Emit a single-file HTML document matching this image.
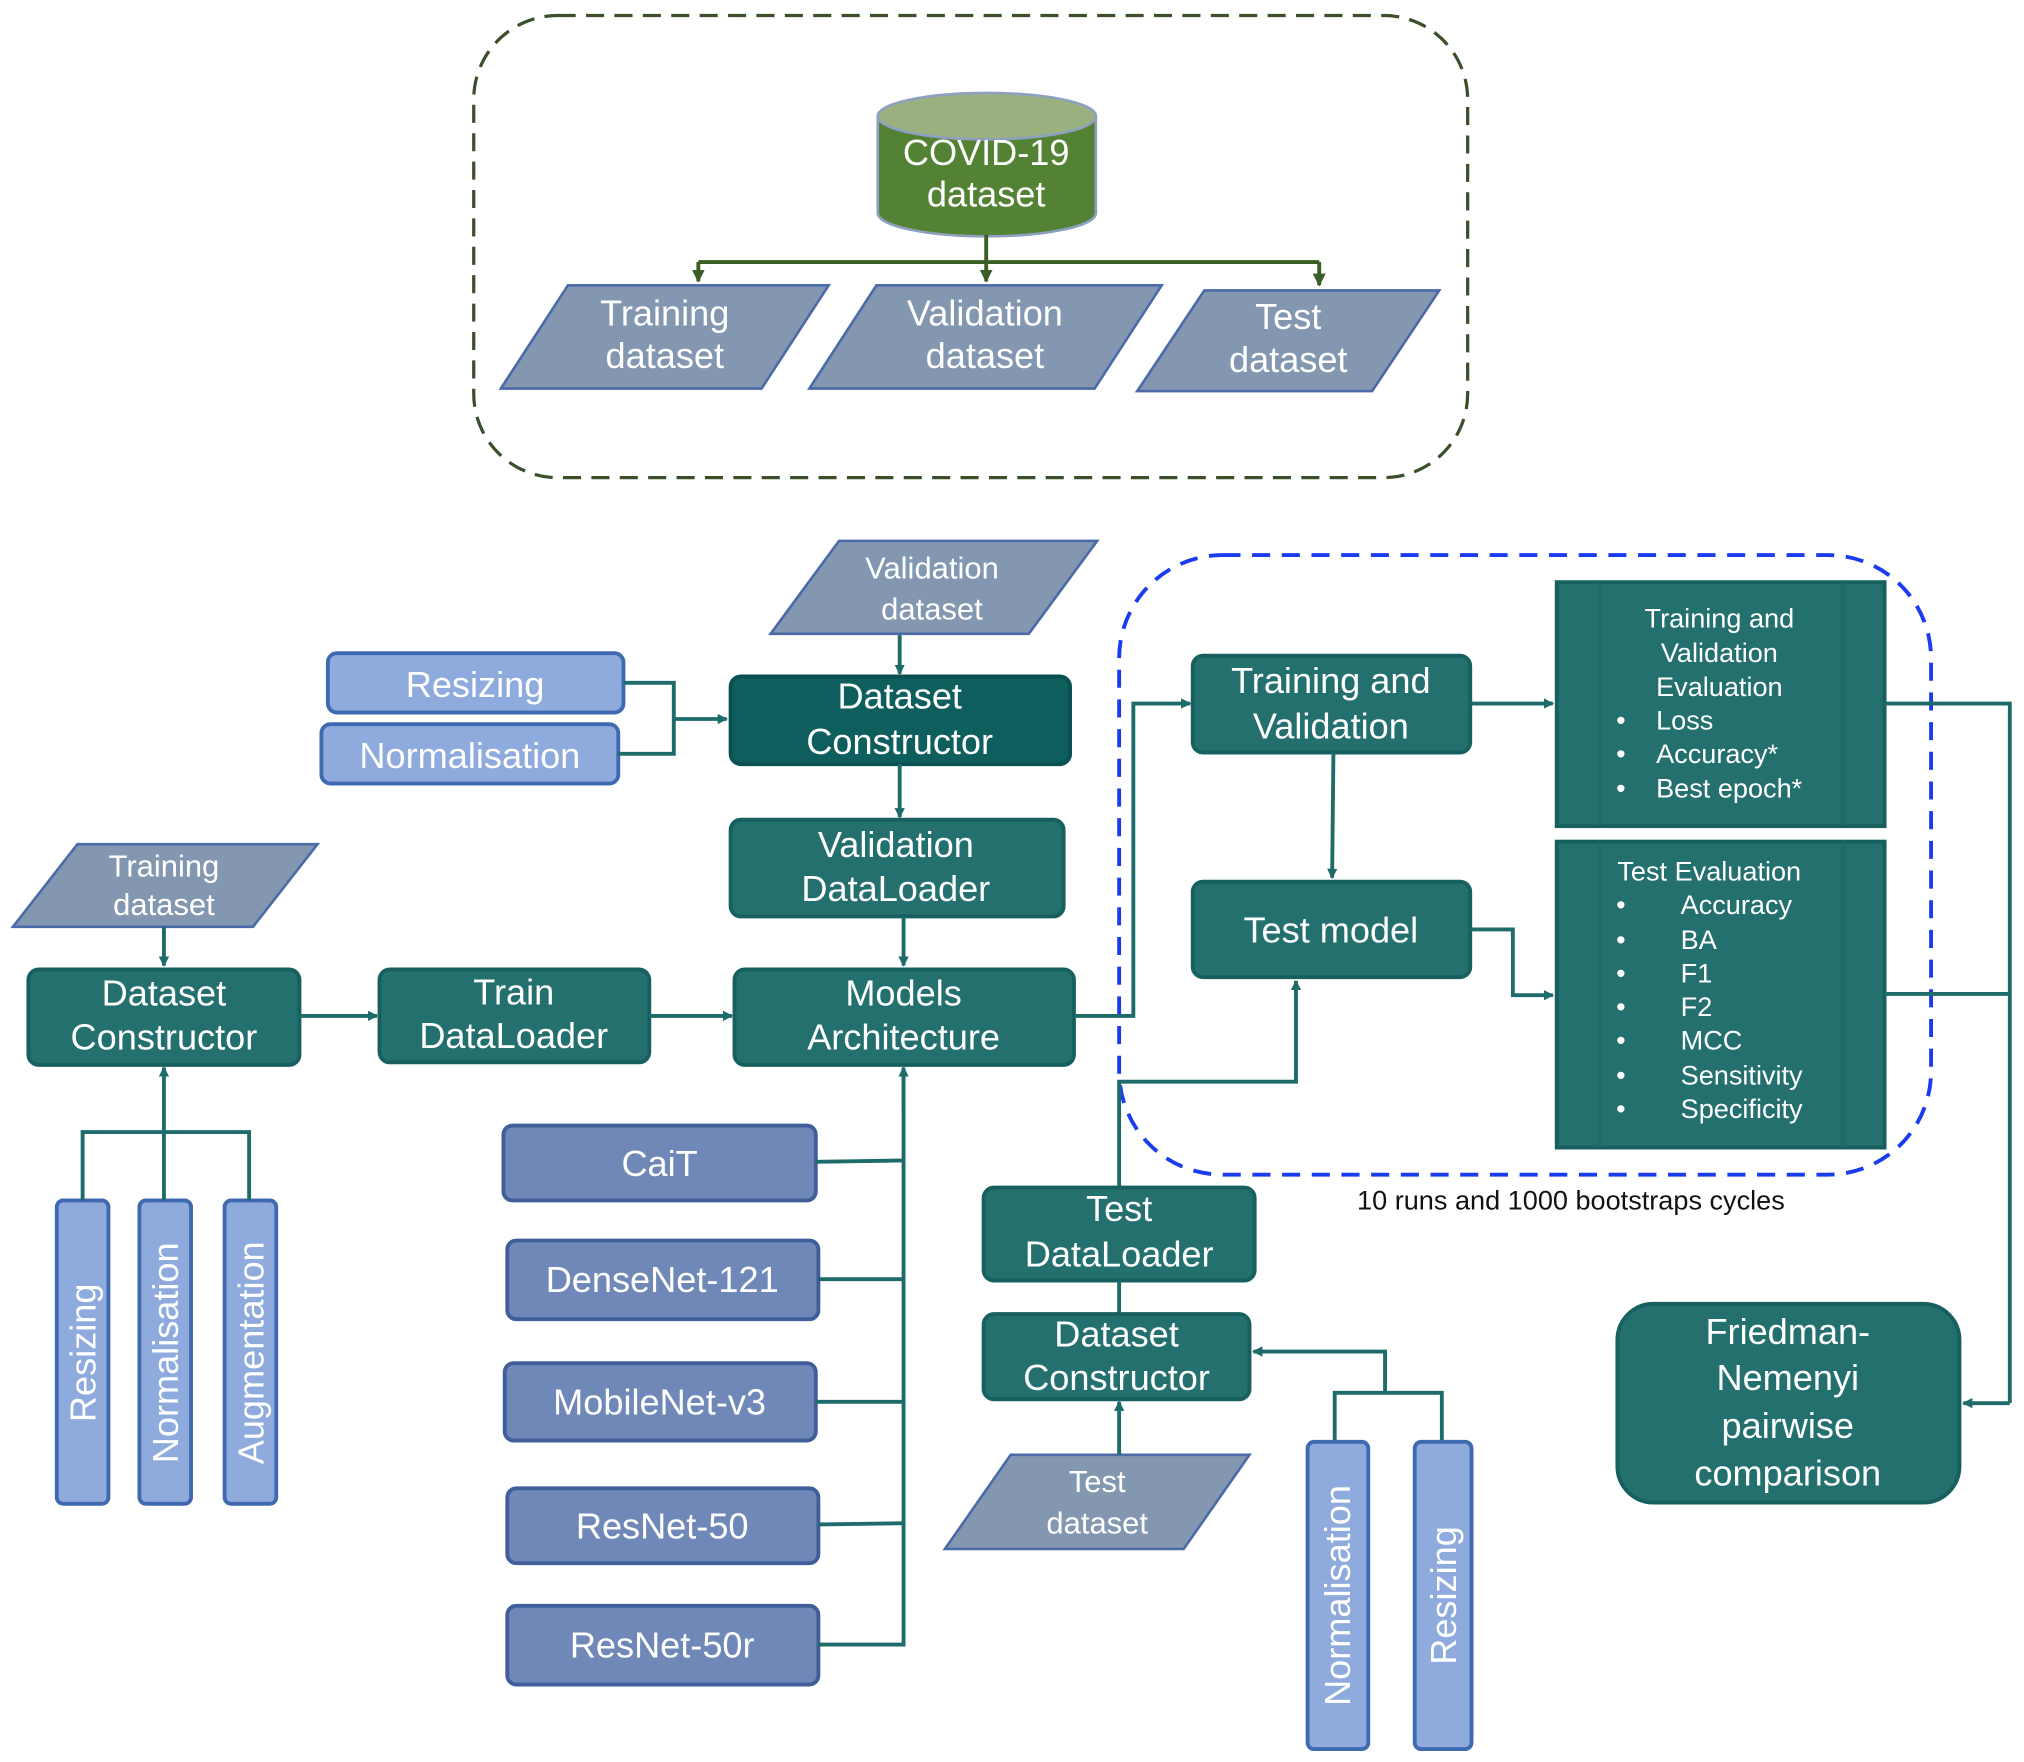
<!DOCTYPE html>
<html><head><meta charset="utf-8"><style>html,body{margin:0;padding:0;background:#fff}svg{display:block}</style></head>
<body>
<svg width="2024" height="1762" viewBox="0 0 1568 1365" preserveAspectRatio="none" xmlns="http://www.w3.org/2000/svg" font-family="Liberation Sans, sans-serif">
<defs>
<marker id="a" markerWidth="8" markerHeight="8" refX="7" refY="4" orient="auto" markerUnits="userSpaceOnUse"><path d="M0,0 L8,4 L0,8 z" fill="#1d6b6a"/></marker>
<marker id="g" markerWidth="10" markerHeight="10" refX="9" refY="5" orient="auto" markerUnits="userSpaceOnUse"><path d="M0,0 L10,5 L0,10 z" fill="#3a5f25"/></marker>
</defs>
<style>
.t{fill:#23706f;stroke:#17605f;stroke-width:3}
.d{fill:#0e5e5e;stroke:#0a5050;stroke-width:3}
.p{fill:#8497b0;stroke:#4a6aa8;stroke-width:2}
.lb{fill:#8faadc;stroke:#3f6ab0;stroke-width:3}
.m{fill:#6f88b8;stroke:#3f5e9a;stroke-width:3}
.w{fill:#fff;font-size:28px;text-anchor:middle}
.s{fill:#fff;font-size:24px;text-anchor:middle}
.e{fill:#fff;font-size:21px}
.l{fill:none;stroke:#1d6b6a;stroke-width:3}
.gl{fill:none;stroke:#3a5f25;stroke-width:3}
</style>
<!-- top group -->
<rect x="367" y="12" width="770" height="358" rx="65" fill="none" stroke="#3a4f2a" stroke-width="2.5" stroke-dasharray="14,8"/>
<path d="M680,90 V165 A84,18 0 0 0 849,165 V90" fill="#548235" stroke="#8ea0c0" stroke-width="2"/>
<ellipse cx="764.5" cy="90" rx="84.5" ry="18" fill="#9bb07f" stroke="#8ea0c0" stroke-width="2"/>
<text class="w" x="764" y="128">COVID-19</text><text class="w" x="764" y="160">dataset</text>
<path class="gl" d="M764,182 V203 M541,203 H1022"/>
<path class="gl" d="M541,203 V218" marker-end="url(#g)"/><path class="gl" d="M764,203 V218" marker-end="url(#g)"/><path class="gl" d="M1022,203 V221" marker-end="url(#g)"/>
<polygon class="p" points="388,301 440,221 642,221 590,301"/><text class="w" x="515" y="252">Training</text><text class="w" x="515" y="285">dataset</text>
<polygon class="p" points="627,301 679,221 900,221 848,301"/><text class="w" x="763" y="252">Validation</text><text class="w" x="763" y="285">dataset</text>
<polygon class="p" points="881,303 933,225 1115,225 1063,303"/><text class="w" x="998" y="255">Test</text><text class="w" x="998" y="288">dataset</text>
<!-- middle -->
<polygon class="p" points="597,491 650,419 850,419 797,491"/><text class="s" x="722" y="448">Validation</text><text class="s" x="722" y="480">dataset</text>
<rect class="lb" x="254" y="506" width="229" height="46" rx="7"/><text class="w" x="368" y="540">Resizing</text>
<rect class="lb" x="249" y="561" width="230" height="46" rx="7"/><text class="w" x="364" y="595">Normalisation</text>
<path class="l" d="M483,529 H522 V584 H479"/><path class="l" d="M522,557 H563" marker-end="url(#a)"/>
<rect class="d" x="566" y="524" width="263" height="68" rx="8"/><text class="w" x="697" y="549">Dataset</text><text class="w" x="697" y="584">Constructor</text>
<path class="l" d="M697,492 V522" marker-end="url(#a)"/><path class="l" d="M697,592 V633" marker-end="url(#a)"/>
<rect class="t" x="566" y="635" width="258" height="75" rx="8"/><text class="w" x="694" y="664">Validation</text><text class="w" x="694" y="698">DataLoader</text>
<path class="l" d="M700,710 V748" marker-end="url(#a)"/>
<rect class="t" x="569" y="751" width="263" height="74" rx="8"/><text class="w" x="700" y="779">Models</text><text class="w" x="700" y="813">Architecture</text>
<polygon class="p" points="10,718 60,654 246,654 196,718"/><text class="s" x="127" y="679">Training</text><text class="s" x="127" y="709">dataset</text>
<path class="l" d="M127,718 V748" marker-end="url(#a)"/>
<rect class="t" x="22" y="751" width="210" height="74" rx="8"/><text class="w" x="127" y="779">Dataset</text><text class="w" x="127" y="813">Constructor</text>
<path class="l" d="M232,787 H292" marker-end="url(#a)"/>
<rect class="t" x="294" y="751" width="209" height="72" rx="8"/><text class="w" x="398" y="778">Train</text><text class="w" x="398" y="812">DataLoader</text>
<path class="l" d="M503,787 H567" marker-end="url(#a)"/>
<!-- left bars -->
<rect class="lb" x="44" y="930" width="40" height="235" rx="5"/><text class="w" transform="translate(74,1048) rotate(-90)">Resizing</text>
<rect class="lb" x="108" y="930" width="40" height="235" rx="5"/><text class="w" transform="translate(138,1048) rotate(-90)">Normalisation</text>
<rect class="lb" x="174" y="930" width="40" height="235" rx="5"/><text class="w" transform="translate(204,1048) rotate(-90)">Augmentation</text>
<path class="l" d="M64,930 V877 H193 V930"/><path class="l" d="M127,930 V827" marker-end="url(#a)"/>
<!-- models -->
<rect class="m" x="390" y="872" width="242" height="58" rx="7"/><text class="w" x="511" y="911">CaiT</text>
<rect class="m" x="393" y="961" width="241" height="61" rx="7"/><text class="w" x="513" y="1001">DenseNet-121</text>
<rect class="m" x="391" y="1056" width="241" height="60" rx="7"/><text class="w" x="511" y="1096">MobileNet-v3</text>
<rect class="m" x="393" y="1153" width="241" height="58" rx="7"/><text class="w" x="513" y="1192">ResNet-50</text>
<rect class="m" x="393" y="1244" width="241" height="61" rx="7"/><text class="w" x="513" y="1284">ResNet-50r</text>
<path class="l" d="M632,900 L700,899 M634,991 H700 M632,1086 H700 M634,1181 L700,1180 M634,1274 H700 V827"/>
<path class="l" d="M700,860 V827" marker-end="url(#a)"/>
<!-- right section -->
<rect x="867" y="430" width="629" height="480" rx="80" fill="none" stroke="#1a3cf0" stroke-width="3" stroke-dasharray="14,9"/>
<path class="l" d="M832,787 H878 V545 H922" marker-end="url(#a)"/>
<rect class="t" x="924" y="508" width="215" height="75" rx="8"/><text class="w" x="1031" y="537">Training and</text><text class="w" x="1031" y="572">Validation</text>
<path class="l" d="M1139,545 H1203" marker-end="url(#a)"/>
<path class="l" d="M1033,583 L1032,680" marker-end="url(#a)"/>
<rect class="t" x="924" y="683" width="215" height="74" rx="8"/><text class="w" x="1031" y="730">Test model</text>
<path class="l" d="M1139,720 H1172 V771 H1203" marker-end="url(#a)"/>
<rect class="t" x="1206" y="451" width="254" height="189"/><path class="l" d="M1239,452 V639 M1428,452 V639" stroke="#17605f"/>
<text class="e" x="1332" y="486" text-anchor="middle">Training and</text><text class="e" x="1332" y="513" text-anchor="middle">Validation</text><text class="e" x="1332" y="539" text-anchor="middle">Evaluation</text>
<text class="e" x="1252" y="565">•</text><text class="e" x="1283" y="565">Loss</text>
<text class="e" x="1252" y="591">•</text><text class="e" x="1283" y="591">Accuracy*</text>
<text class="e" x="1252" y="618">•</text><text class="e" x="1283" y="618">Best epoch*</text>
<rect class="t" x="1206" y="652" width="254" height="237"/><path class="l" d="M1239,653 V888 M1428,653 V888" stroke="#17605f"/>
<text class="e" x="1253" y="682">Test Evaluation</text>
<g class="e"><text x="1252" y="708">•</text><text x="1252" y="735">•</text><text x="1252" y="761">•</text><text x="1252" y="787">•</text><text x="1252" y="813">•</text><text x="1252" y="840">•</text><text x="1252" y="866">•</text></g>
<g class="e"><text x="1302" y="708">Accuracy</text><text x="1302" y="735">BA</text><text x="1302" y="761">F1</text><text x="1302" y="787">F2</text><text x="1302" y="813">MCC</text><text x="1302" y="840">Sensitivity</text><text x="1302" y="866">Specificity</text></g>
<path class="l" d="M1460,545 H1557 V1087 M1460,770 H1557"/><path class="l" d="M1557,1087 H1521" marker-end="url(#a)"/>
<rect class="t" x="1253" y="1010" width="265" height="154" rx="28"/>
<text class="w" x="1385" y="1041">Friedman-</text><text class="w" x="1385" y="1077">Nemenyi</text><text class="w" x="1385" y="1114">pairwise</text><text class="w" x="1385" y="1151">comparison</text>
<text x="1217" y="937" font-size="21" text-anchor="middle" fill="#111">10 runs and 1000 bootstraps cycles</text>
<path class="l" d="M867,920 V838 H1004 V760" marker-end="url(#a)"/>
<rect class="t" x="762" y="920" width="210" height="72" rx="8"/><text class="w" x="867" y="946">Test</text><text class="w" x="867" y="981">DataLoader</text>
<path class="l" d="M867,992 V1018"/>
<rect class="t" x="762" y="1018" width="206" height="66" rx="8"/><text class="w" x="865" y="1043">Dataset</text><text class="w" x="865" y="1077">Constructor</text>
<path class="l" d="M1073,1079 V1047 H971" marker-end="url(#a)"/><path class="l" d="M1034,1117 V1079 H1117 V1117"/>
<polygon class="p" points="732,1200 783,1127 968,1127 917,1200"/><text class="s" x="850" y="1156">Test</text><text class="s" x="850" y="1188">dataset</text>
<path class="l" d="M867,1127 V1086" marker-end="url(#a)"/>
<rect class="lb" x="1013" y="1117" width="47" height="238" rx="5"/><text class="w" transform="translate(1046,1236) rotate(-90)">Normalisation</text>
<rect class="lb" x="1096" y="1117" width="44" height="238" rx="5"/><text class="w" transform="translate(1128,1236) rotate(-90)">Resizing</text>
</svg>
</body></html>
